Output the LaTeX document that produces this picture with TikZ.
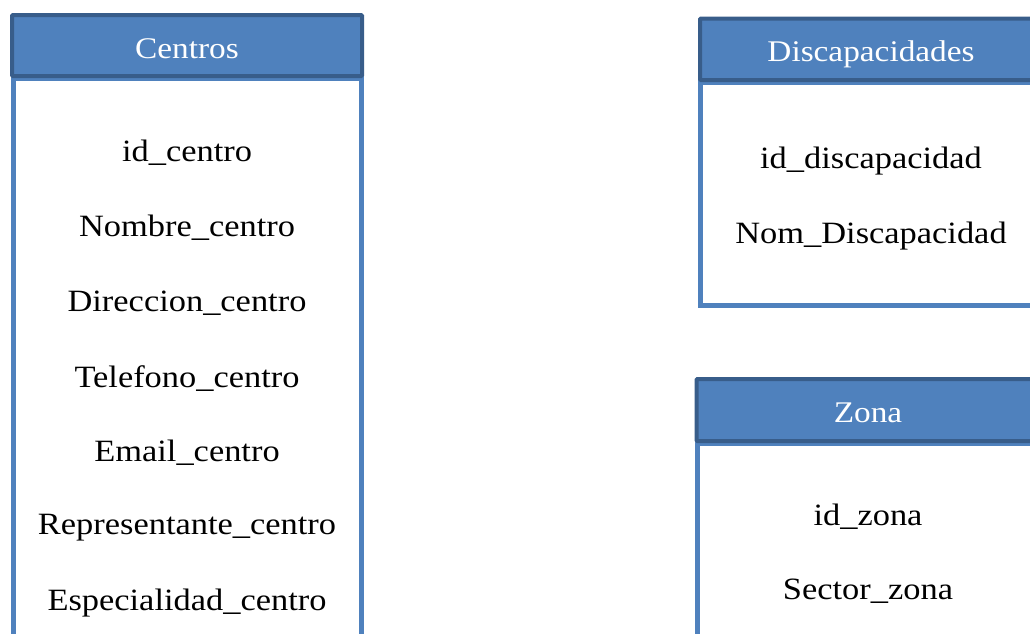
\documentclass[tikz,border=0pt]{standalone}
\usepackage{fontspec}
\setmainfont{Liberation Serif}[FakeStretch=1.11]
\definecolor{hdrfill}{HTML}{4F81BD}
\definecolor{hdrline}{HTML}{385D8A}
\definecolor{bodyline}{HTML}{4F81BD}
\tikzset{
  hdrbox/.style={fill=hdrfill, draw=hdrline, line width=4pt, rounded corners=1pt},
  bodybox/.style={fill=white, draw=bodyline, line width=5pt},
  ttl/.style={text=white, font=\fontsize{30}{34}\selectfont, anchor=center, inner sep=0pt},
  fld/.style={text=black, font=\fontsize{31}{35}\selectfont, anchor=center, inner sep=0pt}
}
\begin{document}
\begin{tikzpicture}[x=1pt,y=-1pt]
\useasboundingbox (0,0) rectangle (1030,633);
\clip (0,0) rectangle (1030,633);
% Centros
\draw[bodybox] (13.5,78) rectangle (361.5,720);
\draw[hdrbox] (12,15) rectangle (362,76);
\node[ttl] (tcentros) at (187,49) {Centros};
\node[fld] (c1) at (187,153) {id\_centro};
\node[fld] (c2) at (187,228) {Nombre\_centro};
\node[fld] (c3) at (187,303) {Direccion\_centro};
\node[fld] (c4) at (187,379) {Telefono\_centro};
\node[fld] (c5) at (187,453) {Email\_centro};
\node[fld] (c6) at (187,528) {Representante\_centro};
\node[fld] (c7) at (187,603) {Especialidad\_centro};
% Discapacidades
\draw[bodybox] (700.5,82) rectangle (1050,305);
\draw[hdrbox] (700,18.5) rectangle (1050,80);
\node[ttl] (tdisc) at (871,54) {Discapacidades};
\node[fld] (d1) at (871,161) {id\_discapacidad};
\node[fld] (d2) at (871,236) {Nom\_Discapacidad};
% Zona
\draw[bodybox] (697.5,443) rectangle (1050,720);
\draw[hdrbox] (696.5,379) rectangle (1050,441);
\node[ttl] (tzona) at (868,413) {Zona};
\node[fld] (z1) at (868,517) {id\_zona};
\node[fld] (z2) at (868,591) {Sector\_zona};
\end{tikzpicture}
\end{document}
